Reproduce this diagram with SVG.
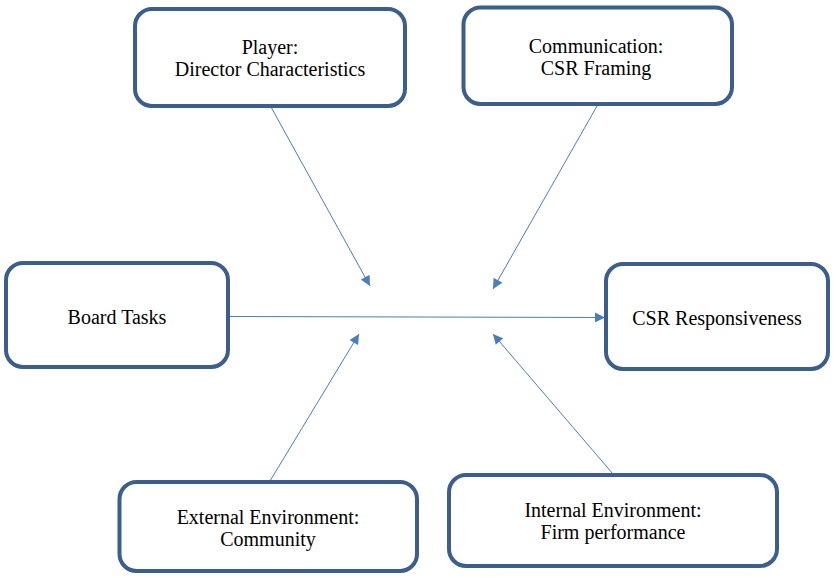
<svg xmlns="http://www.w3.org/2000/svg" width="837" height="578" viewBox="0 0 837 578">
<defs>
<style>
.box{fill:#ffffff;stroke:#3B5E8C;stroke-width:4}
.lbl{font-family:"Liberation Serif","Times New Roman",serif;font-size:20px;fill:#000000;text-anchor:middle}
.con{stroke:#4A7EBB;stroke-width:1;fill:none;marker-end:url(#arr)}
</style>
<marker id="arr" viewBox="0 0 10 10" refX="10" refY="5" markerWidth="11" markerHeight="10" markerUnits="userSpaceOnUse" orient="auto">
<path d="M0,0 L10,5 L0,10 z" fill="#4A7EBB"/>
</marker>
</defs>
<rect width="837" height="578" fill="#ffffff"/>
<g id="connectors">
<line class="con" x1="271" y1="107" x2="370" y2="286"/>
<line class="con" x1="597" y1="106" x2="493" y2="289"/>
<line class="con" x1="229" y1="316.5" x2="605" y2="317.5"/>
<line class="con" x1="270" y1="481" x2="359" y2="334"/>
<line class="con" x1="613" y1="474" x2="493" y2="334"/>
</g>
<g id="player">
<rect class="box" x="135" y="9" width="270" height="97" rx="17"/>
<text class="lbl" x="270" y="54">Player:</text>
<text class="lbl" x="270" y="76">Director Characteristics</text>
</g>
<g id="communication">
<rect class="box" x="463.5" y="7.5" width="268.5" height="96.5" rx="17"/>
<text class="lbl" x="596" y="53">Communication:</text>
<text class="lbl" x="596" y="75">CSR Framing</text>
</g>
<g id="board-tasks">
<rect class="box" x="6" y="263" width="222" height="104" rx="17"/>
<text class="lbl" x="117" y="324">Board Tasks</text>
</g>
<g id="csr-responsiveness">
<rect class="box" x="606" y="264" width="222" height="105" rx="17"/>
<text class="lbl" x="717" y="325">CSR Responsiveness</text>
</g>
<g id="external-environment">
<rect class="box" x="119.5" y="482" width="297.5" height="89" rx="17"/>
<text class="lbl" x="268" y="524">External Environment:</text>
<text class="lbl" x="268" y="546">Community</text>
</g>
<g id="internal-environment">
<rect class="box" x="449" y="475" width="328" height="91" rx="17"/>
<text class="lbl" x="613" y="517">Internal Environment:</text>
<text class="lbl" x="613" y="539">Firm performance</text>
</g>
</svg>
